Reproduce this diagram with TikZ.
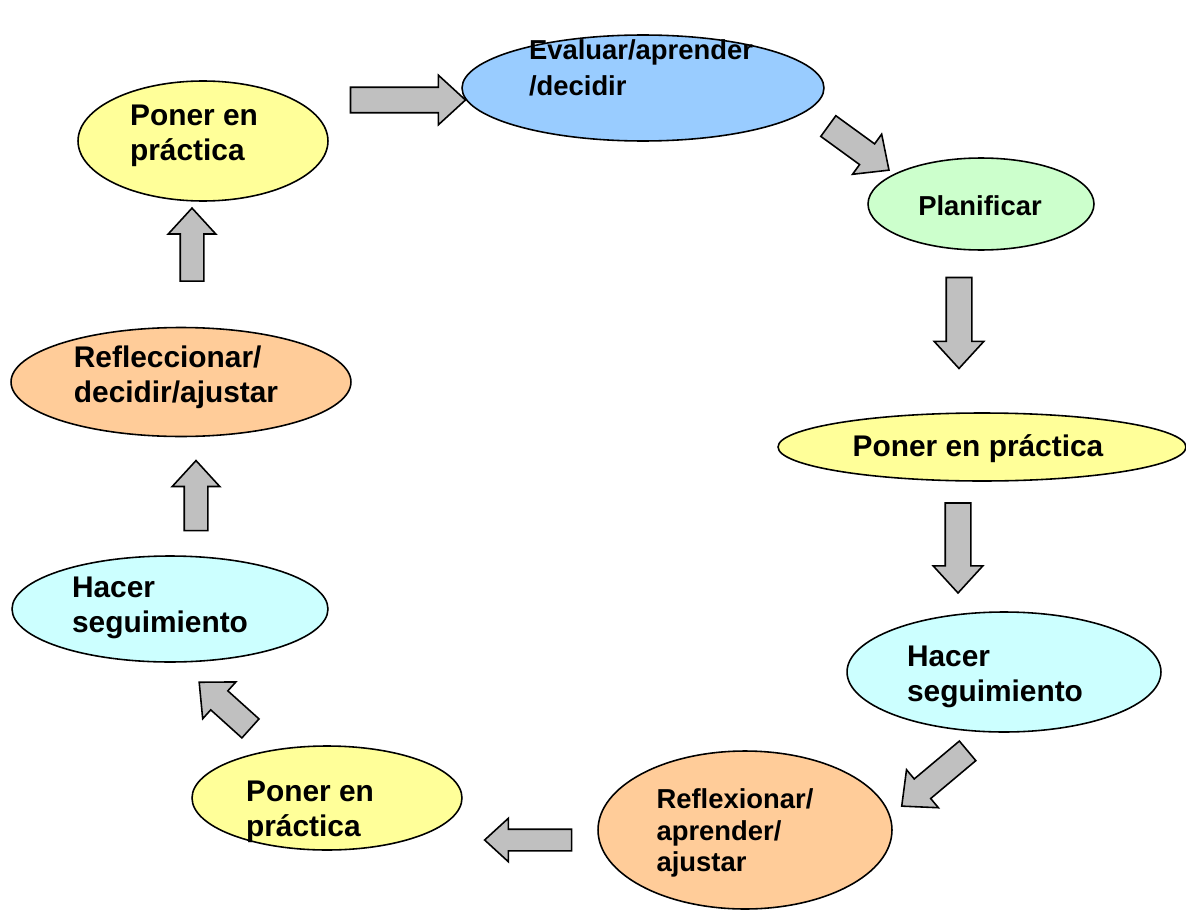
\documentclass[tikz,border=0pt]{standalone}
\usepackage{fontspec}
\setmainfont{Liberation Sans}
\usetikzlibrary{shapes.geometric,shapes.arrows}
\definecolor{evalblue}{HTML}{99CCFF}
\definecolor{plangreen}{HTML}{CCFFCC}
\definecolor{putyellow}{HTML}{FFFF99}
\definecolor{followcyan}{HTML}{CCFFFF}
\definecolor{reflorange}{HTML}{FFCC99}
\definecolor{arrowgray}{HTML}{C0C0C0}
\tikzset{
  stage/.style={ellipse, draw, line width=0.9pt, inner sep=0pt},
  txt/.style={align=left, inner sep=0pt, font=\bfseries\fontsize{17}{20}\selectfont},
  smalltxt/.style={txt, font=\bfseries\fontsize{15.6}{18}\selectfont},
  blockarrow/.style={single arrow, draw, line width=0.9pt, fill=arrowgray, inner xsep=0pt,
    inner ysep=0.24cm, single arrow head extend=0.24cm, single arrow tip angle=85}
}
\begin{document}
\begin{tikzpicture}[x=0.02cm, y=-0.02cm]
    \useasboundingbox (0,0) rectangle (1186,909);
    % Ellipses
    \node[stage, fill=evalblue, minimum width=7.24cm, minimum height=2.12cm] (EV) at (643,88) {};
    \node[stage, fill=plangreen, minimum width=4.52cm, minimum height=1.84cm] (PL) at (981,204) {};
    \node[stage, fill=putyellow, minimum width=8.16cm, minimum height=1.36cm] (PR1) at (982,447) {};
    \node[stage, fill=followcyan, minimum width=6.28cm, minimum height=2.40cm] (HS1) at (1004,672) {};
    \node[stage, fill=reflorange, minimum width=5.88cm, minimum height=3.16cm] (RF1) at (745,830) {};
    \node[stage, fill=putyellow, minimum width=5.40cm, minimum height=2.08cm] (PR2) at (327,798) {};
    \node[stage, fill=followcyan, minimum width=6.32cm, minimum height=2.12cm] (HS2) at (170,609) {};
    \node[stage, fill=reflorange, minimum width=6.80cm, minimum height=2.18cm] (RF2) at (181,382) {};
    \node[stage, fill=putyellow, minimum width=5.00cm, minimum height=2.40cm] (PR3) at (203,141) {};
    % Texts
    \node[smalltxt, font=\bfseries\fontsize{15.6}{20.5}\selectfont] (EVt) at (641,68) {Evaluar/aprender\\/decidir};
    \node[smalltxt] (PLt) at (980,206) {Planificar};
    \node[txt] (PR1t) at (978,449) {Poner en práctica};
    \node[txt] (HS1t) at (995,677) {Hacer\\seguimiento};
    \node[smalltxt] (RF1t) at (735,833) {Reflexionar/\\aprender/\\ajustar};
    \node[txt] (PR2t) at (310,812) {Poner en\\práctica};
    \node[txt] (HS2t) at (160,608) {Hacer\\seguimiento};
    \node[txt] (RF2t) at (176,377) {Refleccionar/\\decidir/ajustar};
    \node[txt] (PR3t) at (194,136) {Poner en\\práctica};
    % Block arrows
    \node[blockarrow, minimum height=2.30cm, rotate=0] (A1) at (401,100) {};
    \node[blockarrow, minimum height=1.50cm, rotate=-36] (A2) at (853,144) {};
    \node[blockarrow, minimum height=1.82cm, rotate=-90] (A3) at (959,316) {};
    \node[blockarrow, minimum height=1.80cm, rotate=-90] (A4) at (958,541) {};
    \node[blockarrow, minimum height=1.72cm, rotate=220] (A5) at (940,774) {};
    \node[blockarrow, minimum height=1.74cm, rotate=180, inner ysep=0.2cm, single arrow head extend=0.22cm] (A6) at (534,840) {};
    \node[blockarrow, minimum height=1.38cm, rotate=138] (A7) at (230,710) {};
    \node[blockarrow, minimum height=1.40cm, rotate=90, inner ysep=0.22cm] (A8) at (196,502) {};
    \node[blockarrow, minimum height=1.46cm, rotate=90, inner ysep=0.22cm] (A9) at (192,251) {};
\end{tikzpicture}
\end{document}
